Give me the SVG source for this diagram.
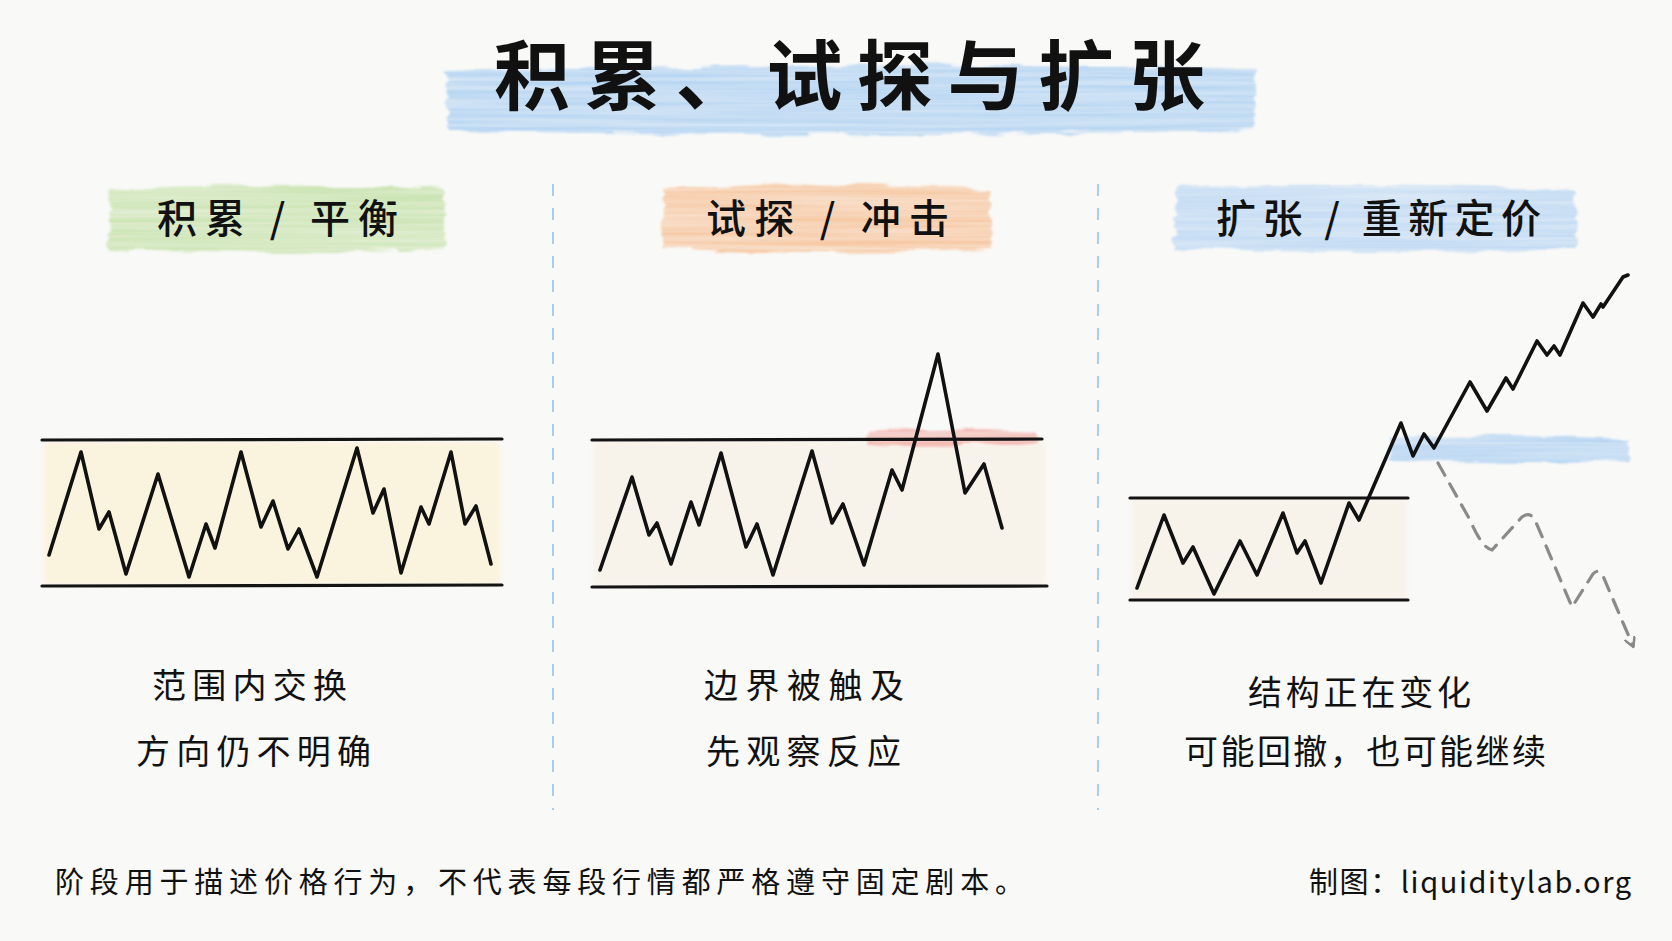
<svg xmlns="http://www.w3.org/2000/svg" width="1672" height="941" viewBox="0 0 1672 941">
<style>
.hand{font-family:"Noto Sans CJK SC","Noto Sans",sans-serif;fill:#111;}
.title{font-size:76px;font-weight:700;}
.head{font-size:40px;font-weight:500;}
.lab{font-size:34px;font-weight:400;}
.foot{font-size:29px;font-weight:400;}
.range{stroke:#141414;stroke-width:3.2;stroke-linecap:round;fill:none;}
.price{stroke:#111;stroke-width:3.6;stroke-linejoin:round;stroke-linecap:round;fill:none;}
.div{stroke:#a9cdf0;stroke-width:2;stroke-dasharray:12 12;}
</style>
<defs>
<filter id="brush" x="-5%" y="-30%" width="110%" height="160%">
<feTurbulence type="fractalNoise" baseFrequency="0.02 0.12" numOctaves="3" seed="3" result="n"/>
<feDisplacementMap in="SourceGraphic" in2="n" scale="10" xChannelSelector="R" yChannelSelector="G" result="d"/>
<feGaussianBlur in="d" stdDeviation="1.2" result="b"/>
<feTurbulence type="fractalNoise" baseFrequency="0.004 0.22" numOctaves="2" seed="8" result="n2"/>
<feColorMatrix in="n2" type="matrix" values="0 0 0 0 0 0 0 0 0 0 0 0 0 0 0 0 0 0 -0.7 1.1" result="a"/>
<feComposite in="b" in2="a" operator="in"/>
</filter>
<filter id="soft" x="-5%" y="-10%" width="110%" height="120%">
<feGaussianBlur stdDeviation="2"/>
</filter>
<marker id="chev" viewBox="0 0 12 12" refX="9" refY="6" markerWidth="12" markerHeight="12" markerUnits="userSpaceOnUse" orient="auto">
<path d="M1,1 L10,6 L1,11" fill="none" stroke="#888" stroke-width="2.5" stroke-linecap="round" stroke-linejoin="round"/>
</marker>
</defs>
<rect width="1672" height="941" fill="#f9f9f7"/>

<g id="title">
<path d="M446,72 Q850,60 1256,70 L1254,130 Q850,138 448,131 Z" fill="#b4d4f3" filter="url(#brush)"/>
<text class="hand title" x="494" y="104" textLength="711" lengthAdjust="spacing">积累、试探与扩张</text>
</g>

<g id="dividers">
<line class="div" x1="553" y1="184" x2="553" y2="810"/>
<line class="div" x1="1098" y1="184" x2="1098" y2="810"/>
</g>

<g id="header-accumulation">
<path d="M110,188 Q280,180 444,190 L446,248 Q280,256 108,248 Z" fill="#cbe4b2" filter="url(#brush)"/>
<text class="hand head" x="157" y="233" textLength="241" lengthAdjust="spacing">积累 / 平衡</text>
</g>
<g id="header-probe">
<path d="M664,188 Q830,180 990,190 L992,248 Q830,256 662,248 Z" fill="#f7c8a2" filter="url(#brush)"/>
<text class="hand head" x="706" y="233" textLength="243" lengthAdjust="spacing">试探 / 冲击</text>
</g>
<g id="header-expansion">
<path d="M1176,188 Q1375,180 1574,190 L1576,248 Q1375,256 1174,248 Z" fill="#bfd9f4" filter="url(#brush)"/>
<text class="hand head" x="1216" y="233" textLength="325" lengthAdjust="spacing">扩张 / 重新定价</text>
</g>

<g id="panel-accumulation">
<rect x="44" y="442" width="456" height="142" fill="#fbf2d9" opacity="0.85" filter="url(#soft)"/>
<line class="range" x1="42" y1="440" x2="502" y2="439"/>
<line class="range" x1="42" y1="586" x2="502" y2="585"/>
<polyline class="price" points="49,555 81,452 99,529 109,512 126,574 158,474 189,577 206,524 215,548 241,452 261,527 273,501 288,549 299,529 317,577 357,448 373,513 384,489 401,573 421,507 429,524 451,452 465,524 476,506 491,564"/>
</g>

<g id="panel-probe">
<rect x="594" y="442" width="451" height="143" fill="#f8f3ea" filter="url(#soft)"/>
<path d="M868,432 Q950,426 1038,431 L1038,444 Q950,448 867,445 Z" fill="#f2a59e" opacity="0.8" filter="url(#brush)"/>
<line class="range" x1="592" y1="440" x2="1042" y2="439"/>
<line class="range" x1="592" y1="587" x2="1047" y2="586"/>
<polyline class="price" points="600,570 632,477 649,535 657,523 671,564 691,502 699,525 721,453 746,547 757,524 773,575 812,451 832,523 843,504 864,565 892,470 902,490 938,354 965,493 984,464 1002,528"/>
</g>

<g id="panel-expansion">
<rect x="1132" y="500" width="274" height="98" fill="#f8f3ea" filter="url(#soft)"/>
<path d="M1391,438 Q1510,434 1630,439 L1630,460 Q1510,464 1390,461 Z" fill="#b4d4f3" filter="url(#brush)"/>
<line class="range" x1="1130" y1="498" x2="1408" y2="498"/>
<line class="range" x1="1130" y1="600" x2="1408" y2="600"/>
<polyline class="price" points="1137,588 1164,515 1183,563 1193,547 1214,594 1240,541 1257,575 1283,513 1297,553 1305,541 1321,583 1349,503 1359,520 1401,423 1413,456 1424,434 1434,448 1470,382 1487,411 1506,378 1513,389 1537,341 1547,355 1554,346 1560,355 1583,303 1593,317 1601,304 1603,307 1623,277 1628,275"/>
</g>

<g id="connectors">
<path d="M1438,463 L1470,520 Q1482,548 1492,550 L1522,517 Q1530,511 1535,520 L1572,607 L1593,574 Q1598,568 1603,576 L1633,646" fill="none" stroke="#8a8a8a" stroke-width="3.2" stroke-dasharray="14 10" stroke-linecap="round" marker-end="url(#chev)"/>
</g>

<g id="label-accumulation">
<text class="hand lab" x="152" y="698" textLength="195" lengthAdjust="spacing">范围内交换</text>
<text class="hand lab" x="136" y="764" textLength="235" lengthAdjust="spacing">方向仍不明确</text>
</g>
<g id="label-probe">
<text class="hand lab" x="704" y="698" textLength="200" lengthAdjust="spacing">边界被触及</text>
<text class="hand lab" x="706" y="764" textLength="195" lengthAdjust="spacing">先观察反应</text>
</g>
<g id="label-expansion">
<text class="hand lab" x="1248" y="705" textLength="223" lengthAdjust="spacing">结构正在变化</text>
<text class="hand lab" x="1184" y="764" textLength="362" lengthAdjust="spacing">可能回撤，也可能继续</text>
</g>

<g id="footer">
<text class="hand foot" x="55" y="893" textLength="969" lengthAdjust="spacing">阶段用于描述价格行为，不代表每段行情都严格遵守固定剧本。</text>
<text class="hand foot" x="1309" y="893" textLength="322" lengthAdjust="spacing">制图：liquiditylab.org</text>
</g>
</svg>
